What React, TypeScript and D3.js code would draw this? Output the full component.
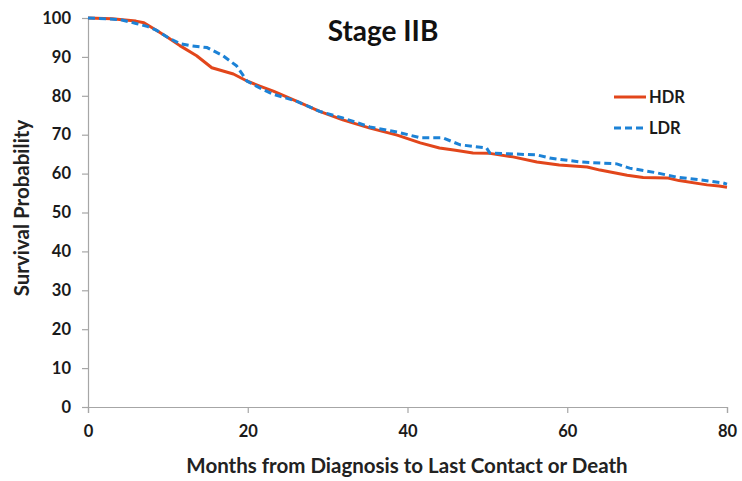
import React, { useEffect, useRef } from 'react';
import * as d3 from 'd3';

// Kaplan-Meier curves: [month, survival %]
const hdrMonths = [0, 3, 6, 7, 8.6, 10, 11.5, 13.6, 15.5, 18.2, 19.9, 21.5, 23.2, 26.1, 29, 31.9, 35.3, 38.7, 41.6, 44, 46, 48.2, 50.3, 53.2, 56.2, 59, 62.5, 64.1, 67.5, 69.5, 72.5, 74, 77.5, 79, 80];
const hdrValues = [100, 99.8, 99.2, 98.8, 96.8, 95, 92.9, 90.3, 87.2, 85.6, 83.8, 82.5, 81.2, 78.6, 76, 73.8, 71.7, 69.9, 67.9, 66.6, 66, 65.3, 65.2, 64.3, 63, 62.2, 61.7, 60.9, 59.6, 59, 58.9, 58.2, 57.1, 56.8, 56.5];

const ldrMonths = [0, 4, 6, 7.5, 8.6, 10, 11.5, 12.8, 14.9, 16.9, 18.6, 19.9, 21.5, 23.2, 26.1, 29, 31.9, 35.3, 38.7, 41.6, 44.4, 46.6, 49.9, 50.3, 56.2, 57.8, 61.6, 66.2, 67.8, 71.2, 73.7, 76.6, 79.5, 80];
const ldrValues = [100, 99.6, 98.6, 97.8, 96.8, 95, 93.4, 92.9, 92.4, 90.3, 87.7, 83.8, 82, 80.4, 78.6, 76, 74.3, 72, 70.7, 69.2, 69.2, 67.4, 66.6, 65.3, 64.8, 64, 63, 62.5, 61.4, 60.2, 59.1, 58.4, 57.6, 57.3];

const xTicks = [0, 20, 40, 60, 80];
const yTicks = [0, 10, 20, 30, 40, 50, 60, 70, 80, 90, 100];

const seriesNames = ['HDR', 'LDR'];

export default function App() {
  const svgRef = useRef<SVGSVGElement>(null);

  useEffect(() => {
    if (!svgRef.current) return;
    const width = 742;
    const height = 481;
    const font = 'Lato, "Open Sans", sans-serif';

    const svg = d3.select(svgRef.current);
    svg.selectAll('*').remove();
    svg.attr('width', width).attr('height', height);

    svg.append('rect').attr('width', width).attr('height', height).attr('fill', 'white');

    const x = d3.scaleLinear().domain([0, 80]).range([88, 727]);
    const y = d3.scaleLinear().domain([0, 100]).range([407, 18]);

    const axisColor = '#a6a6a6';

    // y axis
    const yAxis = svg.append('g')
      .attr('transform', 'translate(88,0)')
      .call(d3.axisLeft(y).tickValues(yTicks).tickSize(6).tickPadding(11));
    yAxis.select('.domain').attr('stroke', axisColor).attr('stroke-width', 1.2);
    yAxis.selectAll('.tick line').attr('stroke', axisColor).attr('stroke-width', 1.2);
    yAxis.selectAll('.tick text')
      .style('font-family', font).style('font-size', '16.5px').style('font-weight', 'bold').attr('fill', '#1a1a1a');

    // x axis
    const xAxis = svg.append('g')
      .attr('transform', 'translate(0,407)')
      .call(d3.axisBottom(x).tickValues(xTicks).tickSize(6).tickPadding(12));
    xAxis.select('.domain').attr('stroke', axisColor).attr('stroke-width', 1.2);
    xAxis.selectAll('.tick line').attr('stroke', axisColor).attr('stroke-width', 1.2);
    xAxis.selectAll('.tick text')
      .style('font-family', font).style('font-size', '16.5px').style('font-weight', 'bold').attr('fill', '#1a1a1a');

    const line = d3.line<[number, number]>()
      .x(d => x(d[0]))
      .y(d => y(d[1]));

    const hdr = hdrMonths.map((m, i) => [m, hdrValues[i]] as [number, number]);
    const ldr = ldrMonths.map((m, i) => [m, ldrValues[i]] as [number, number]);

    svg.append('path')
      .datum(hdr)
      .attr('d', line)
      .attr('fill', 'none')
      .attr('stroke', '#e2461b')
      .attr('stroke-width', 3)
      .attr('stroke-linejoin', 'round');

    svg.append('path')
      .datum(ldr)
      .attr('d', line)
      .attr('fill', 'none')
      .attr('stroke', '#1c82d6')
      .attr('stroke-width', 3)
      .attr('stroke-dasharray', '7,4');

    // title
    svg.append('text')
      .attr('x', 383).attr('y', 41)
      .attr('text-anchor', 'middle')
      .style('font-family', font).style('font-size', '28px').style('font-weight', 'bold')
      .attr('fill', '#111')
      .text('Stage IIB');

    // axis titles
    svg.append('text')
      .attr('x', 407).attr('y', 473)
      .attr('text-anchor', 'middle')
      .style('font-family', font).style('font-size', '20.5px').style('font-weight', 'bold')
      .attr('fill', '#222')
      .text('Months from Diagnosis to Last Contact or Death');

    svg.append('text')
      .attr('transform', 'translate(29,208) rotate(-90)')
      .attr('text-anchor', 'middle')
      .style('font-family', font).style('font-size', '20.5px').style('font-weight', 'bold')
      .attr('fill', '#222')
      .text('Survival Probability');

    // legend
    const legend = svg.selectAll('.legend')
      .data(seriesNames)
      .enter()
      .append('g')
      .attr('class', 'legend')
      .attr('transform', (d, i) => `translate(614, ${97 + i * 31})`);

    legend.append('line')
      .attr('x1', 0).attr('x2', 32)
      .attr('stroke', (d, i) => (i === 0 ? '#e2461b' : '#1c82d6'))
      .attr('stroke-width', 3)
      .attr('stroke-dasharray', (d, i) => (i === 0 ? null : '7,4'));

    legend.append('text')
      .attr('x', 35).attr('y', 6)
      .style('font-family', font).style('font-size', '16.5px').style('font-weight', 'bold')
      .attr('fill', '#1a1a1a')
      .text(d => d);
  }, []);

  return <svg ref={svgRef} style={{ position: 'absolute', left: 0, top: 0, display: 'block' }}></svg>;
}
